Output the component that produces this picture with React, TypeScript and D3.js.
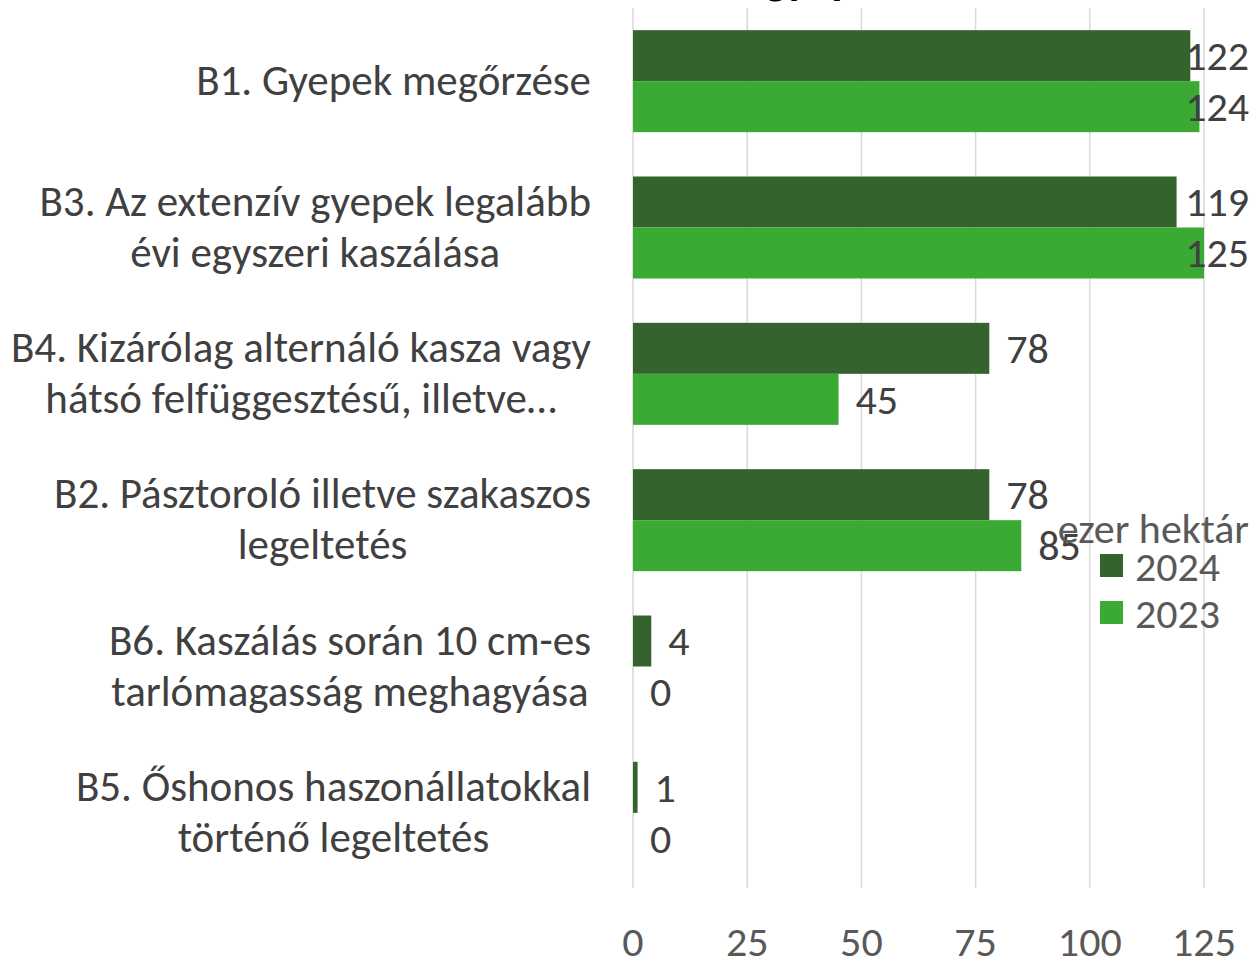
import React, { useEffect, useRef } from "react";
import * as d3 from "d3";

const categoryLines: string[][] = [
  ["B1. Gyepek megőrzése"],
  ["B3. Az extenzív gyepek legalább", "évi egyszeri kaszálása"],
  ["B4. Kizárólag alternáló kasza vagy", "hátsó felfüggesztésű, illetve…"],
  ["B2. Pásztoroló illetve szakaszos", "legeltetés"],
  ["B6. Kaszálás során 10 cm-es", "tarlómagasság meghagyása"],
  ["B5. Őshonos haszonállatokkal", "történő legeltetés"],
];
const categoryKeys = ["B1", "B3", "B4", "B2", "B6", "B5"];
const seriesNames = ["2024", "2023"];
const values2024 = [122, 119, 78, 78, 4, 1];
const values2023 = [124, 125, 45, 85, 0, 0];
const xTicks = [0, 25, 50, 75, 100, 125];
const unitLabel = "ezer hektár";
const titleText = "gyepek";

const W = 1253;
const H = 958;
const FONT = "Calibri, Carlito, Lato, sans-serif";
const FS = 42;
const FS_CAT = 43;
const colors = ["#35632E", "#3AAA35"];

export default function App() {
  const ref = useRef<SVGSVGElement | null>(null);

  useEffect(() => {
    const svg = d3.select(ref.current);
    svg.selectAll("*").remove();

    const x = d3.scaleLinear().domain([0, 125]).range([633, 1204]);
    const y0 = d3.scaleBand<string>().domain(categoryKeys).range([8, 886]).padding(0);
    const y1 = d3
      .scaleBand<string>()
      .domain(seriesNames)
      .range([0, y0.bandwidth()])
      .paddingInner(0)
      .paddingOuter(0.4346);

    // title (clipped at top)
    svg
      .append("text")
      .attr("x", 765)
      .attr("y", -6)
      .attr("font-family", FONT)
      .attr("font-size", 46)
      .attr("font-weight", "bold")
      .attr("fill", "#000")
      .text(titleText);

    // gridlines
    svg
      .append("g")
      .selectAll("line")
      .data(xTicks)
      .join("line")
      .attr("x1", (d) => x(d))
      .attr("x2", (d) => x(d))
      .attr("y1", 8)
      .attr("y2", 888)
      .attr("stroke", "#D9D9D9")
      .attr("stroke-width", 1.5);

    // tick labels
    svg
      .append("g")
      .selectAll("text")
      .data(xTicks)
      .join("text")
      .attr("x", (d) => x(d))
      .attr("y", 941)
      .attr("text-anchor", "middle")
      .attr("dominant-baseline", "central")
      .attr("font-family", FONT)
      .attr("font-size", FS)
      .attr("fill", "#595959")
      .text((d) => String(d));

    const data = categoryKeys.map((k, i) => ({
      key: k,
      vals: [values2024[i], values2023[i]],
    }));

    // bars
    const groups = svg
      .append("g")
      .selectAll("g")
      .data(data)
      .join("g")
      .attr("transform", (d) => `translate(0,${y0(d.key)})`);

    groups
      .selectAll("rect")
      .data((d) => d.vals.map((v, j) => ({ v, s: seriesNames[j], j })))
      .join("rect")
      .attr("x", x(0))
      .attr("y", (d) => y1(d.s)!)
      .attr("width", (d) => x(d.v) - x(0))
      .attr("height", y1.bandwidth())
      .attr("fill", (d) => colors[d.j]);

    // value labels
    groups
      .selectAll("text")
      .data((d) => d.vals.map((v, j) => ({ v, s: seriesNames[j], j })))
      .join("text")
      .attr("y", (d) => y1(d.s)! + y1.bandwidth() / 2)
      .attr("dominant-baseline", "central")
      .attr("font-family", FONT)
      .attr("font-size", FS)
      .attr("fill", "#404040")
      .text((d) => String(d.v))
      .each(function (d) {
        const t = this as SVGTextElement;
        const w = t.getComputedTextLength();
        const xs = Math.min(x(d.v) + 17, 1249 - w);
        d3.select(t).attr("x", xs);
      });

    // category labels
    const catG = svg.append("g");
    data.forEach((d, i) => {
      const lines = categoryLines[i];
      const cy = y0(d.key)! + y0.bandwidth() / 2 - 1;
      const lh = 51;
      const texts = lines.map((ln, li) =>
        catG
          .append("text")
          .attr("y", cy + (li - (lines.length - 1) / 2) * lh)
          .attr("dominant-baseline", "central")
          .attr("text-anchor", "middle")
          .attr("font-family", FONT)
          .attr("font-size", FS_CAT)
          .attr("fill", "#404040")
          .text(ln)
      );
      const maxW = d3.max(texts, (t) => (t.node() as SVGTextElement).getComputedTextLength()) || 0;
      texts.forEach((t) => t.attr("x", 591 - maxW / 2));
    });

    // legend
    svg
      .append("text")
      .attr("x", 1249)
      .attr("y", 528)
      .attr("text-anchor", "end")
      .attr("dominant-baseline", "central")
      .attr("font-family", FONT)
      .attr("font-size", FS)
      .attr("fill", "#595959")
      .text(unitLabel);

    const leg = svg
      .append("g")
      .selectAll("g")
      .data(seriesNames)
      .join("g")
      .attr("transform", (_d, i) => `translate(1100,${554 + i * 47})`);
    leg
      .append("rect")
      .attr("width", 23)
      .attr("height", 23)
      .attr("fill", (_d, i) => colors[i]);
    leg
      .append("text")
      .attr("x", 35)
      .attr("y", 12)
      .attr("dominant-baseline", "central")
      .attr("font-family", FONT)
      .attr("font-size", FS)
      .attr("fill", "#595959")
      .text((d) => d);
  }, []);

  return (
    <svg
      ref={ref}
      width={W}
      height={H}
      style={{ position: "absolute", left: 0, top: 0, background: "#fff" }}
    />
  );
}
